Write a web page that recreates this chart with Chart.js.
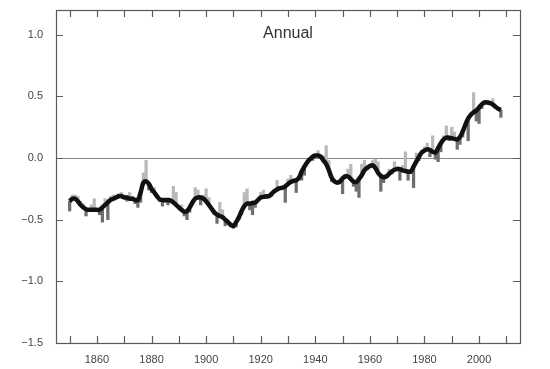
<!DOCTYPE html>
<html>
<head>
<meta charset="utf-8">
<script src="https://cdn.jsdelivr.net/npm/chart.js@4/dist/chart.umd.min.js"></script>
<style>
  html, body { margin: 0; padding: 0; background: #fff; }
  #wrap { width: 550px; height: 369px; }
</style>
</head>
<body>
<div id="wrap"><canvas id="tempChart" width="550" height="369"></canvas></div>
<script>
// ---------- Data ----------
const firstYear = 1850;

// yearly anomaly, one per year 1850..2008
const annual = [
  -0.43, -0.30, -0.30, -0.31, -0.35, -0.37, -0.47, -0.43, -0.38, -0.33,
  -0.43, -0.46, -0.52, -0.33, -0.50, -0.31, -0.30, -0.30, -0.29, -0.28,
  -0.30, -0.35, -0.28, -0.31, -0.37, -0.40, -0.36, -0.12, -0.02, -0.26,
  -0.28, -0.24, -0.30, -0.35, -0.39, -0.36, -0.38, -0.36, -0.23, -0.28,
  -0.40, -0.38, -0.47, -0.50, -0.44, -0.38, -0.24, -0.26, -0.38, -0.30,
  -0.25, -0.32, -0.42, -0.46, -0.53, -0.36, -0.42, -0.55, -0.50, -0.56,
  -0.57, -0.56, -0.50, -0.46, -0.28, -0.25, -0.42, -0.46, -0.40, -0.34,
  -0.28, -0.26, -0.33, -0.30, -0.31, -0.25, -0.18, -0.24, -0.23, -0.36,
  -0.17, -0.14, -0.20, -0.28, -0.15, -0.18, -0.14, -0.04, -0.01, -0.02,
   0.02,  0.06,  0.00,  0.02,  0.10, -0.02, -0.19, -0.17, -0.18, -0.21,
  -0.29, -0.13, -0.09, -0.05, -0.23, -0.27, -0.32, -0.05, -0.02, -0.06,
  -0.08, -0.02, -0.01, -0.03, -0.27, -0.20, -0.13, -0.09, -0.13, -0.03,
  -0.07, -0.18, -0.06,  0.05, -0.18, -0.11, -0.24,  0.04, -0.02,  0.05,
   0.09,  0.12,  0.01,  0.18, -0.01, -0.03,  0.05,  0.18,  0.26,  0.14,
   0.25,  0.21,  0.07,  0.11,  0.17,  0.27,  0.14,  0.35,  0.53,  0.30,
   0.28,  0.40,  0.46,  0.47,  0.45,  0.48,  0.42,  0.40,  0.33
];

// smoothed curve, same years
const smoothed = [
  -0.35, -0.33, -0.33, -0.35, -0.38, -0.40, -0.415, -0.42, -0.42, -0.42,
  -0.42, -0.42, -0.40, -0.38, -0.36, -0.34, -0.33, -0.32, -0.31, -0.31,
  -0.32, -0.32, -0.33, -0.33, -0.34, -0.34, -0.28, -0.20, -0.19, -0.21,
  -0.25, -0.28, -0.31, -0.335, -0.34, -0.34, -0.34, -0.345, -0.36, -0.38,
  -0.40, -0.42, -0.435, -0.43, -0.40, -0.36, -0.33, -0.32, -0.32, -0.33,
  -0.35, -0.38, -0.41, -0.44, -0.46, -0.47, -0.48, -0.50, -0.52, -0.54,
  -0.55, -0.52, -0.48, -0.43, -0.39, -0.37, -0.37, -0.365, -0.36, -0.34,
  -0.32, -0.315, -0.31, -0.31, -0.29, -0.27, -0.255, -0.245, -0.24, -0.23,
  -0.21, -0.195, -0.185, -0.18, -0.16, -0.11, -0.07, -0.035, -0.01, 0.01,
   0.02,  0.02,  0.01, -0.02, -0.05, -0.10, -0.16, -0.19, -0.20, -0.19,
  -0.165, -0.15, -0.15, -0.17, -0.19, -0.195, -0.17, -0.14, -0.10, -0.08,
  -0.065, -0.06, -0.08, -0.12, -0.145, -0.155, -0.15, -0.13, -0.11, -0.095,
  -0.09, -0.09, -0.10, -0.105, -0.11, -0.11, -0.07, -0.03,  0.01,  0.045,
   0.06,  0.07,  0.065, 0.05,  0.045, 0.08,  0.12,  0.15,  0.165, 0.165,
   0.16,  0.155, 0.15,  0.17,  0.215, 0.27,  0.32,  0.35,  0.37,  0.385,
   0.41,  0.435, 0.45,  0.45,  0.445, 0.435, 0.415, 0.40,  0.39
];

const xTickYears = [1850, 1860, 1870, 1880, 1890, 1900, 1910, 1920, 1930,
                    1940, 1950, 1960, 1970, 1980, 1990, 2000, 2010];
const xLabelYears = [1860, 1880, 1900, 1920, 1940, 1960, 1980, 2000];
const yTicks = [-1.5, -1.0, -0.5, 0.0, 0.5, 1.0];

const LIGHT = '#b9b9b9';
const DARK = '#6f6f6f';
const AXIS = '#5a5a5a';

// ---------- Build datasets ----------
const years = annual.map((_, i) => firstYear + i);
const barData = years.map((yr, i) => ({ x: yr, y: [smoothed[i], annual[i]] }));
const barColors = years.map((_, i) => annual[i] >= smoothed[i] ? LIGHT : DARK);
const lineData = years.map((yr, i) => ({ x: yr, y: smoothed[i] }));

// frame + inward tick marks on all four sides + title
const framePlugin = {
  id: 'frame',
  afterDraw(chart) {
    const { ctx, chartArea: a, scales } = chart;
    const len = 7;
    ctx.save();
    ctx.strokeStyle = AXIS;
    ctx.lineWidth = 1.2;
    ctx.strokeRect(a.left + 0.5, a.top + 0.5, a.right - a.left, a.bottom - a.top);
    ctx.beginPath();
    xTickYears.forEach(yr => {
      const px = Math.round(scales.x.getPixelForValue(yr)) + 0.5;
      ctx.moveTo(px, a.bottom); ctx.lineTo(px, a.bottom - len);
      ctx.moveTo(px, a.top); ctx.lineTo(px, a.top + len);
    });
    yTicks.forEach(v => {
      const py = Math.round(scales.y.getPixelForValue(v)) + 0.5;
      ctx.moveTo(a.left, py); ctx.lineTo(a.left + len, py);
      ctx.moveTo(a.right, py); ctx.lineTo(a.right - len, py);
    });
    ctx.stroke();

    ctx.fillStyle = '#333';
    ctx.font = '16px "Liberation Sans", Arial, sans-serif';
    ctx.textAlign = 'center';
    ctx.textBaseline = 'middle';
    ctx.fillText('Annual', (a.left + a.right) / 2, 34);
    ctx.restore();
  }
};

const fmt = v => {
  const s = Math.abs(v).toFixed(1);
  return v < 0 ? '\u2212' + s : s;
};

new Chart(document.getElementById('tempChart'), {
  type: 'bar',
  data: {
    datasets: [
      {
        type: 'line',
        data: lineData,
        borderColor: '#111',
        borderWidth: 4.5,
        tension: 0.4,
        pointRadius: 0,
        order: 0
      },
      {
        type: 'bar',
        data: barData,
        backgroundColor: barColors,
        barThickness: 2.6,
        borderSkipped: false,
        order: 1
      }
    ]
  },
  options: {
    responsive: false,
    animation: false,
    layout: { padding: { top: 10, right: 30, left: 0, bottom: 0 } },
    plugins: {
      legend: { display: false },
      tooltip: { enabled: false }
    },
    scales: {
      x: {
        type: 'linear',
        offset: false,
        min: 1845,
        max: 2015,
        afterBuildTicks: s => { s.ticks = xLabelYears.map(v => ({ value: v })); },
        afterFit: s => { s.height = 26; },
        grid: { display: false, drawTicks: false, offset: false },
        border: { display: false },
        ticks: {
          padding: 10,
          color: '#444',
          font: { size: 11, family: '"Liberation Sans", Arial, sans-serif' },
          maxRotation: 0,
          callback: v => String(v)
        }
      },
      y: {
        min: -1.5,
        max: 1.2,
        afterBuildTicks: s => { s.ticks = yTicks.map(v => ({ value: v })); },
        afterFit: s => { s.width = 56; s.paddingTop = 0; s.paddingBottom = 0; },
        grid: {
          drawTicks: false,
          color: c => (c.tick && c.tick.value === 0) ? '#888' : 'rgba(0,0,0,0)',
          lineWidth: 1
        },
        border: { display: false },
        ticks: {
          padding: 13,
          color: '#444',
          font: { size: 11, family: '"Liberation Sans", Arial, sans-serif' },
          callback: v => fmt(v)
        }
      }
    }
  },
  plugins: [framePlugin]
});
</script>
</body>
</html>
